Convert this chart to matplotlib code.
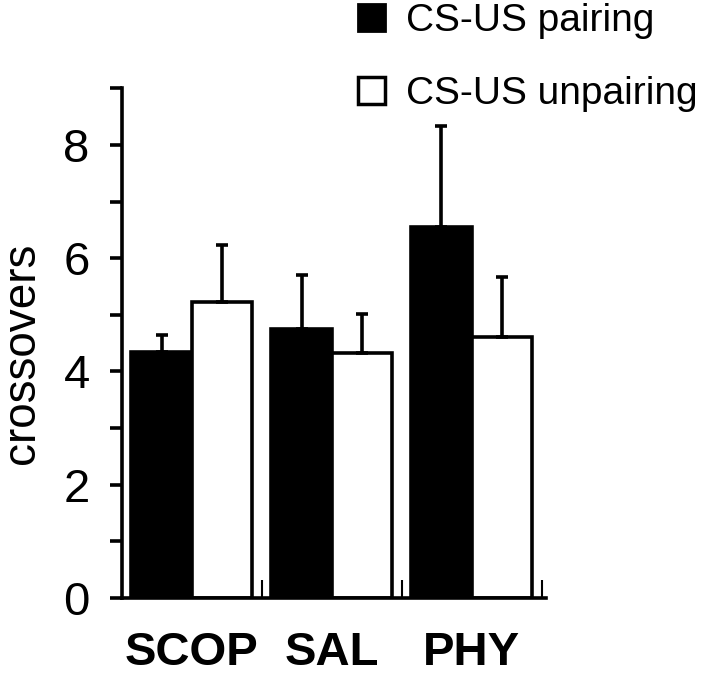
import matplotlib
matplotlib.use("Agg")
from matplotlib import pyplot as plt
from matplotlib.patches import Patch
from matplotlib.ticker import FixedLocator
import numpy as np

# values
groups = ["SCOP", "SAL", "PHY"]
pairing = [4.35, 4.75, 6.55]
pairing_err = [0.29, 0.96, 1.78]
unpairing = [5.22, 4.33, 4.61]
unpairing_err = [1.01, 0.68, 1.05]
series_names = ["CS-US pairing", "CS-US unpairing"]

plt.rcParams["font.family"] = ["Liberation Sans", "DejaVu Sans"]

fig = plt.figure(figsize=(7.2, 6.74), dpi=100)
ax = fig.add_axes([0.169, 0.113, 0.589, 0.756])

x = np.arange(len(groups))
w = 0.43
lw = 2.6

ax.bar(x - w / 2, pairing, w, color="black", edgecolor="black", linewidth=lw, zorder=2)
ax.bar(x + w / 2, unpairing, w, color="white", edgecolor="black", linewidth=lw, zorder=2)

for xs, vals, errs in [(x - w / 2, pairing, pairing_err), (x + w / 2, unpairing, unpairing_err)]:
    ax.errorbar(xs, vals, yerr=[np.zeros(len(errs)), errs], fmt="none", ecolor="black",
                elinewidth=lw, capsize=4, capthick=lw, zorder=3)

ax.set_xlim(-0.5, 2.53)
ax.set_ylim(0, 9)

for s in ["top", "right"]:
    ax.spines[s].set_visible(False)
for s in ["left", "bottom"]:
    ax.spines[s].set_linewidth(2.6)

ax.yaxis.set_major_locator(FixedLocator([0, 2, 4, 6, 8]))
ax.yaxis.set_minor_locator(FixedLocator([1, 3, 5, 7, 9]))
ax.tick_params(axis="y", which="both", direction="out", length=9, width=2.6, labelsize=34, pad=14)

ax.set_xticks(x)
ax.set_xticklabels(groups, fontsize=34, fontweight="bold")
ax.xaxis.set_minor_locator(FixedLocator([0.5, 1.5, 2.5]))
ax.tick_params(axis="x", which="major", length=0, pad=24)
ax.tick_params(axis="x", which="minor", direction="in", length=13, width=1.5)

ax.set_ylabel("crossovers", fontsize=33)
ax.yaxis.set_label_coords(-0.182, 0.48)

handles = [Patch(facecolor="black", edgecolor="black", linewidth=2),
           Patch(facecolor="white", edgecolor="black", linewidth=2.5)]
ax.legend(handles, series_names, loc="upper left", bbox_to_anchor=(0.497, 0.995),
          bbox_transform=fig.transFigure, frameon=False, fontsize=28,
          handlelength=0.7, handleheight=0.7, handletextpad=0.55, labelspacing=0.95,
          borderaxespad=0, borderpad=0)

fig.savefig("out.png", dpi=100)
